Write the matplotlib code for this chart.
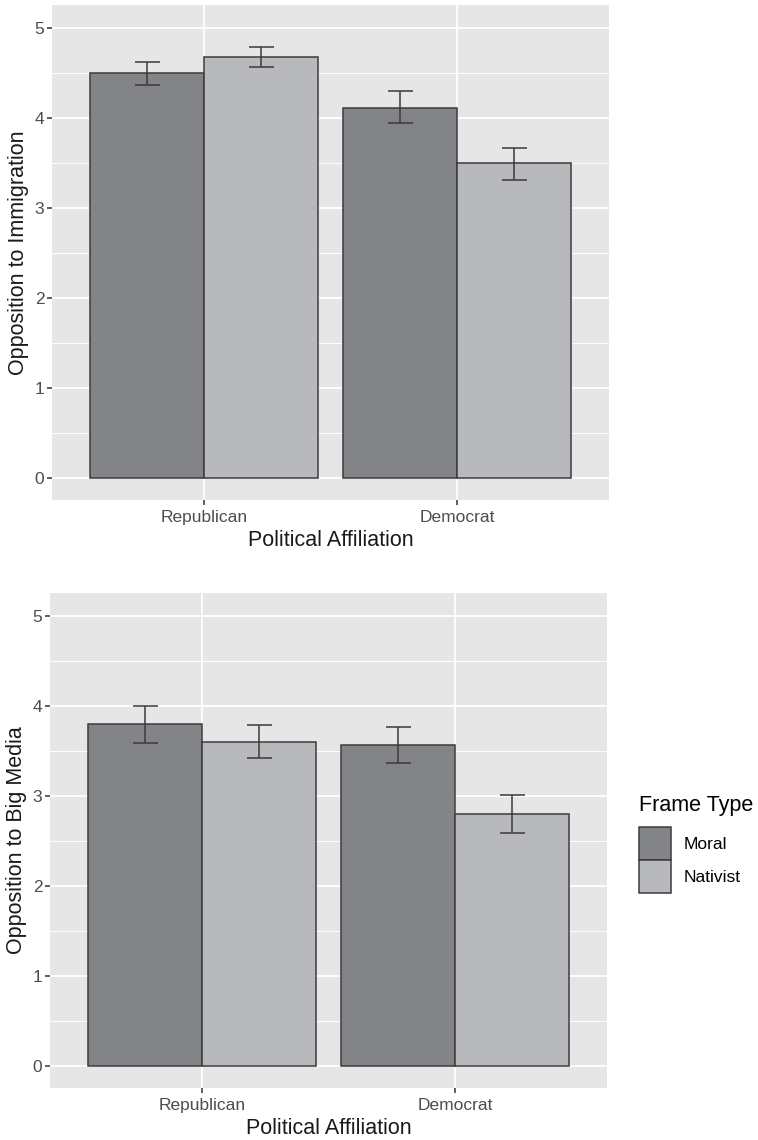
import numpy as np
import matplotlib
matplotlib.use('Agg')
import matplotlib.pyplot as plt
from matplotlib.patches import Patch
from matplotlib.ticker import MultipleLocator

# values
parties = ['Republican', 'Democrat']
frames = ['Moral', 'Nativist']

immig_moral = [4.50, 4.11]
immig_moral_lo = [4.36, 3.94]
immig_moral_hi = [4.62, 4.29]
immig_nativist = [4.67, 3.49]
immig_nativist_lo = [4.56, 3.31]
immig_nativist_hi = [4.78, 3.66]

media_moral = [3.79, 3.56]
media_moral_lo = [3.58, 3.36]
media_moral_hi = [4.00, 3.76]
media_nativist = [3.60, 2.79]
media_nativist_lo = [3.42, 2.58]
media_nativist_hi = [3.78, 3.01]

plt.rcParams.update({
    'font.family': ['Liberation Sans', 'DejaVu Sans'],
    'font.size': 12,
})

panel_bg = '#e6e6e7'
bar_colors = ['#838488', '#b8b9bc']
edge = '#3c3c3c'
tick_col = '#4d4d4d'


def draw_panel(ax, moral, moral_lo, moral_hi, nat, nat_lo, nat_hi, ylabel):
    x = np.arange(1, len(parties) + 1)
    w = 0.45
    ax.set_facecolor(panel_bg)
    ax.set_axisbelow(True)
    ax.grid(which='major', color='white', linewidth=1.3)
    ax.grid(which='minor', axis='y', color='white', linewidth=0.7)

    groups = [(moral, moral_lo, moral_hi), (nat, nat_lo, nat_hi)]
    for k, (vals, lo, hi) in enumerate(groups):
        xs = x + (k - 0.5) * w
        vals = np.array(vals)
        ax.bar(xs, vals, w, color=bar_colors[k], edgecolor=edge, linewidth=1.1, zorder=2)
        yerr = [vals - np.array(lo), np.array(hi) - vals]
        ax.errorbar(xs, vals, yerr=yerr, fmt='none', ecolor='#3a3a3a', elinewidth=1.1,
                    capsize=9, capthick=1.1, zorder=3)

    ax.set_xlim(0.4, 2.6)
    ax.set_ylim(-0.25, 5.25)
    ax.set_xticks(x)
    ax.set_xticklabels(parties)
    ax.yaxis.set_major_locator(MultipleLocator(1))
    ax.yaxis.set_minor_locator(MultipleLocator(0.5))
    ax.tick_params(which='major', length=3.5, width=1.1, color='#333333',
                   labelcolor=tick_col, labelsize=12.5, pad=2)
    ax.tick_params(axis='x', pad=4)
    ax.tick_params(which='minor', length=0)
    for s in ax.spines.values():
        s.set_visible(False)
    ax.set_xlabel('Political Affiliation', fontsize=15.5, color='#1a1a1a', labelpad=3.5)
    ax.set_ylabel(ylabel, fontsize=15.5, color='#1a1a1a', labelpad=4)


fig = plt.figure(figsize=(7.58, 11.4), dpi=100)
ax1 = fig.add_axes([52 / 758, 1 - 500 / 1140, 557 / 758, 495 / 1140])
ax2 = fig.add_axes([50 / 758, 1 - 1088 / 1140, 557 / 758, 495 / 1140])

draw_panel(ax1, immig_moral, immig_moral_lo, immig_moral_hi,
           immig_nativist, immig_nativist_lo, immig_nativist_hi, 'Opposition to Immigration')
draw_panel(ax2, media_moral, media_moral_lo, media_moral_hi,
           media_nativist, media_nativist_lo, media_nativist_hi, 'Opposition to Big Media')

handles = [Patch(facecolor=bar_colors[i], edgecolor=edge, linewidth=1.1, label=frames[i])
           for i in range(len(frames))]
leg = fig.legend(handles=handles, title='Frame Type', loc='upper left',
                 bbox_to_anchor=(632 / 758, 1 - 788 / 1140), frameon=False,
                 fontsize=12.5, title_fontsize=15.5, handlelength=1.85, handleheight=2.55,
                 labelspacing=0.0, handletextpad=0.7, borderaxespad=0)
leg._legend_box.align = 'left'
leg._legend_box.sep = 8

fig.savefig('out.png', dpi=100, facecolor='white')
